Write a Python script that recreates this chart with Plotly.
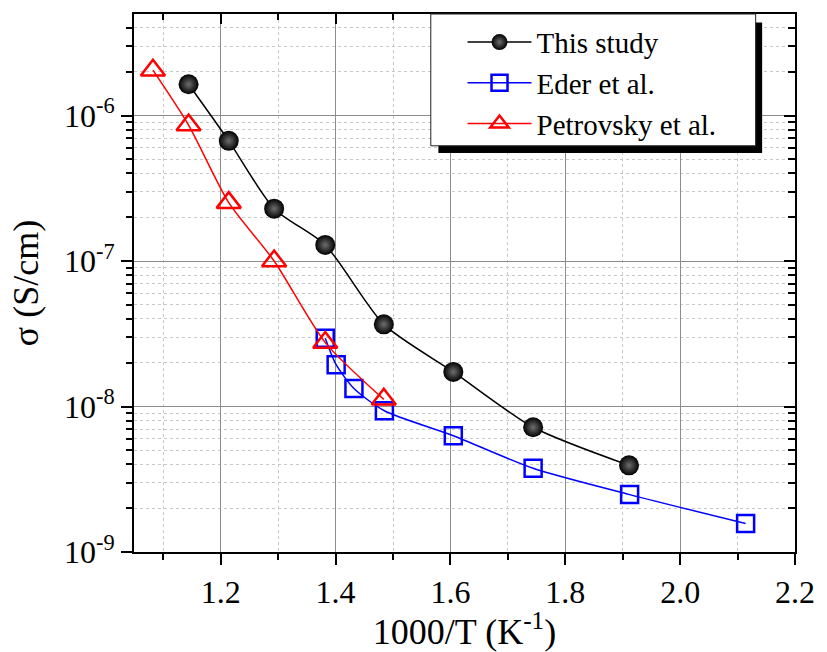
import plotly.graph_objects as go

# ---- data ----
this_x = [1.144, 1.214, 1.293, 1.382, 1.484, 1.605, 1.744, 1.911]
this_y = [1.64e-6, 6.7e-7, 2.29e-7, 1.29e-7, 3.67e-8, 1.73e-8, 7.2e-9, 3.94e-9]

eder_x = [1.382, 1.401, 1.432, 1.485, 1.605, 1.744, 1.912, 2.114]
eder_y = [2.95e-8, 1.94e-8, 1.33e-8, 9.35e-9, 6.3e-9, 3.76e-9, 2.48e-9, 1.57e-9]

petr_x = [1.082, 1.144, 1.214, 1.293, 1.382, 1.484]
petr_y = [2.05e-6, 8.6e-7, 2.52e-7, 1.0e-7, 2.75e-8, 1.12e-8]

x_ticks = [1.2, 1.4, 1.6, 1.8, 2.0, 2.2]
x_ticklabels = ["1.2", "1.4", "1.6", "1.8", "2.0", "2.2"]
x_minor = [1.1, 1.3, 1.5, 1.7, 1.9, 2.1]
y_ticks = [1e-9, 1e-8, 1e-7, 1e-6]
y_ticklabels = ["10<sup>-9</sup>", "10<sup>-8</sup>", "10<sup>-7</sup>", "10<sup>-6</sup>"]
y_minor = [m * 10.0 ** e for e in range(-9, -5) for m in range(2, 10)]

x_range = [1.049, 2.2]
y_range = [-9, -5.302]

FONT = "Liberation Serif, Times New Roman, serif"

fig = go.Figure()

fig.add_trace(go.Scatter(
    x=this_x, y=this_y, name="This study", mode="lines+markers",
    line=dict(color="black", width=1.5, shape="spline", smoothing=0.7),
    marker=dict(symbol="circle", size=20, color="black",
                gradient=dict(type="radial", color="#6e6e6e"),
                line=dict(width=0)),
))
fig.add_trace(go.Scatter(
    x=eder_x, y=eder_y, name="Eder et al.", mode="lines+markers",
    line=dict(color="#0000ff", width=1.5, shape="spline", smoothing=0.7),
    marker=dict(symbol="square-open", size=17, color="#0000ff",
                line=dict(width=2.5, color="#0000ff")),
))
fig.add_trace(go.Scatter(
    x=petr_x, y=petr_y, name="Petrovsky et al.", mode="lines+markers",
    line=dict(color="#ff0000", width=1.5, shape="spline", smoothing=0.7),
    marker=dict(symbol="triangle-up-open", size=21, color="#ff0000",
                line=dict(width=2.5, color="#ff0000")),
))
# helper trace for mirrored (inward) axes
fig.add_trace(go.Scatter(x=[], y=[], xaxis="x2", yaxis="y2", showlegend=False,
                         hoverinfo="skip"))

tick_font = dict(family=FONT, size=32, color="black")
title_font = dict(family=FONT, size=36, color="black")

fig.update_layout(
    width=827, height=652,
    margin=dict(l=134, r=21, t=14, b=96),
    paper_bgcolor="white", plot_bgcolor="white",
    font=dict(family=FONT, size=29, color="black"),
    xaxis=dict(
        range=x_range, tickmode="array", tickvals=x_ticks, ticktext=x_ticklabels,
        ticks="outside", ticklen=11, tickwidth=1.5, tickcolor="black",
        showline=True, linecolor="black", linewidth=2,
        showgrid=True, gridcolor="#8c8c8c", gridwidth=1,
        zeroline=False, tickfont=tick_font,
        title=dict(text="1000/T (K<sup>-1</sup>)", font=title_font, standoff=4),
        minor=dict(tickmode="array", tickvals=x_minor, ticks="outside", ticklen=6,
                   tickwidth=1.5, tickcolor="black", showgrid=True,
                   gridcolor="#c8c8c8", griddash="dot", gridwidth=1),
    ),
    yaxis=dict(
        type="log", range=y_range, tickmode="array", tickvals=y_ticks,
        ticktext=y_ticklabels,
        ticks="outside", ticklen=11, tickwidth=1.5, tickcolor="black",
        showline=True, linecolor="black", linewidth=2,
        showgrid=True, gridcolor="#8c8c8c", gridwidth=1,
        zeroline=False, tickfont=tick_font,
        title=dict(text="σ (S/cm)", font=title_font, standoff=14),
        minor=dict(tickmode="array", tickvals=y_minor, ticks="outside", ticklen=6,
                   tickwidth=1.5, tickcolor="black", showgrid=True,
                   gridcolor="#c8c8c8", griddash="dot", gridwidth=1),
    ),
    xaxis2=dict(
        overlaying="x", anchor="y2", side="top", range=x_range,
        tickmode="array", tickvals=x_ticks, showticklabels=False,
        ticks="inside", ticklen=10, tickwidth=1.5, tickcolor="black",
        showline=True, linecolor="black", linewidth=2, showgrid=False, zeroline=False,
        minor=dict(tickmode="array", tickvals=x_minor, ticks="inside", ticklen=6,
                   tickwidth=1.5, tickcolor="black", showgrid=False),
    ),
    yaxis2=dict(
        overlaying="y", anchor="x2", side="right", type="log", range=y_range,
        tickmode="array", tickvals=y_ticks, showticklabels=False,
        ticks="inside", ticklen=11, tickwidth=1.5, tickcolor="black",
        showline=True, linecolor="black", linewidth=2, showgrid=False, zeroline=False,
        minor=dict(tickmode="array", tickvals=y_minor, ticks="inside", ticklen=7,
                   tickwidth=1.5, tickcolor="black", showgrid=False),
    ),
    legend=dict(
        x=0.497, y=0.995, xanchor="left", yanchor="top",
        bgcolor="rgba(0,0,0,0)", borderwidth=0,
        font=dict(family=FONT, size=29, color="black"),
        itemwidth=64, tracegroupgap=0, itemsizing="trace",
    ),
    shapes=[
        # legend shadow
        dict(type="rect", xref="paper", yref="paper",
             x0=0.4605, x1=0.9503, y0=0.7416, y1=0.984,
             fillcolor="black", line=dict(width=0), layer="above"),
        # legend box
        dict(type="rect", xref="paper", yref="paper",
             x0=0.449, x1=0.9405, y0=0.755, y1=1.0,
             fillcolor="white", line=dict(width=1, color="#222222"), layer="above"),
    ],
)

fig.write_html("out.html")
